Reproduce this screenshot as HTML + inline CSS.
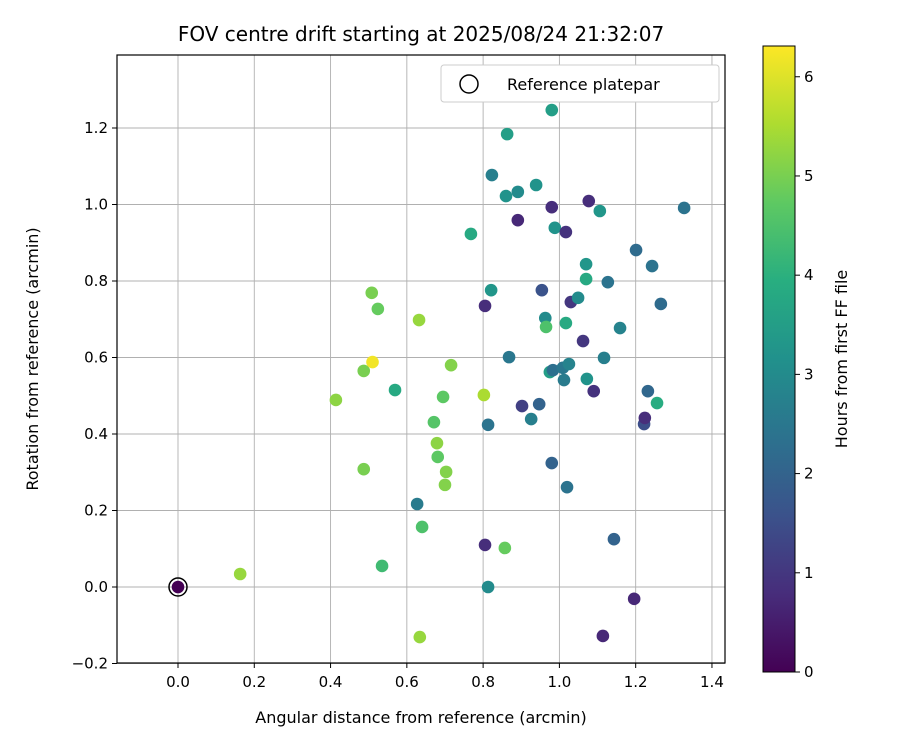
<!DOCTYPE html>
<html><head><meta charset="utf-8"><style>
body{margin:0;background:#fff;font-family:"Liberation Sans","DejaVu Sans",sans-serif}
</style></head><body>
<svg id="chart" width="900" height="750" xmlns="http://www.w3.org/2000/svg" font-family="DejaVu Sans, Liberation Sans, sans-serif">
<defs><linearGradient id="vir" x1="0" y1="1" x2="0" y2="0">
<stop offset="0" stop-color="#440154"/><stop offset="0.125" stop-color="#472d7b"/><stop offset="0.25" stop-color="#3b528b"/><stop offset="0.375" stop-color="#2c728e"/><stop offset="0.5" stop-color="#21918c"/><stop offset="0.625" stop-color="#28ae80"/><stop offset="0.75" stop-color="#5ec962"/><stop offset="0.875" stop-color="#addc30"/><stop offset="1" stop-color="#fde725"/>
</linearGradient></defs>
<text x="421" y="41" font-size="20" text-anchor="middle">FOV centre drift starting at 2025/08/24 21:32:07</text>
<g id="grid"></g>
<g id="ticks"></g>
<g id="points"></g>
<rect x="117" y="55" width="608" height="608" fill="none" stroke="#000" stroke-width="1.2"/>
<text x="421" y="723" font-size="16" text-anchor="middle">Angular distance from reference (arcmin)</text>
<text transform="translate(38,359) rotate(-90)" font-size="16" text-anchor="middle">Rotation from reference (arcmin)</text>
<g>
<rect x="441" y="65" width="278" height="37" rx="3" fill="#fff" stroke="#ccc"/>
<circle cx="469" cy="84" r="9" fill="none" stroke="#000" stroke-width="1.5"/>
<text x="507" y="90" font-size="16">Reference platepar</text>
</g>
<rect x="763" y="46" width="32" height="626" fill="url(#vir)" stroke="#000" stroke-width="1"/>
<g id="cbticks"></g>
<text transform="translate(847,359) rotate(-90)" font-size="16" text-anchor="middle">Hours from first FF file</text>
</svg>
<script>
const xs=[0,0.163,0.414,0.487,0.487,0.508,0.510,0.524,0.535,0.569,0.627,0.632,0.634,0.640,0.671,0.679,0.681,0.695,0.700,0.703,0.716,0.768,0.802,0.805,0.805,0.813,0.813,0.821,0.823,0.857,0.860,0.863,0.868,0.891,0.891,0.902,0.926,0.939,0.947,0.954,0.963,0.965,0.975,0.980,0.980,0.980,0.983,0.988,1.009,1.012,1.017,1.017,1.020,1.025,1.030,1.049,1.062,1.070,1.070,1.072,1.077,1.090,1.106,1.114,1.117,1.127,1.143,1.159,1.196,1.201,1.222,1.224,1.232,1.243,1.256,1.266,1.327];
const ys=[0,0.034,0.489,0.565,0.308,0.769,0.588,0.727,0.055,0.515,0.217,0.698,-0.131,0.157,0.431,0.376,0.340,0.497,0.267,0.301,0.580,0.923,0.502,0.735,0.110,0.424,0,0.776,1.077,0.102,1.022,1.184,0.601,0.959,1.033,0.473,0.439,1.051,0.478,0.776,0.703,0.680,0.562,1.247,0.993,0.324,0.567,0.939,0.573,0.541,0.690,0.928,0.261,0.583,0.745,0.756,0.643,0.844,0.805,0.544,1.009,0.512,0.983,-0.128,0.599,0.797,0.125,0.677,-0.031,0.881,0.426,0.442,0.512,0.839,0.481,0.740,0.991];
const hours=[0,5.3,5.2,5,5,5,6.2,4.8,4.3,3.8,2.6,5.3,5.3,4.5,4.6,5.2,4.7,4.7,5.1,5.1,5.1,3.8,5.5,0.8,0.8,2.4,3,3.3,2.7,4.8,3.2,3.5,2.5,0.7,3,1.2,2.7,3.2,2,1.6,3,4.5,3.5,3.5,0.8,2,2.3,3.2,2.5,2.6,3.8,0.9,2.4,2.8,1.0,3,1,3.3,3.8,3.2,0.8,0.9,3.3,0.7,2.7,2.4,2,2.8,0.7,2.2,1.5,0.8,2.1,2.4,3.9,2.2,2.4];
const xTicks=[0,0.2,0.4,0.6,0.8,1.0,1.2,1.4];
const yTicks=[-0.2,0,0.2,0.4,0.6,0.8,1.0,1.2];
const cTicks=[0,1,2,3,4,5,6];
const NS='http://www.w3.org/2000/svg';
const X=v=>178+(v-0)*381.4, Y=v=>587-v*382.5, C=h=>672-h*(626/6.31);
const HMAX=6.31;
const stops=[[68,1,84],[71,45,123],[59,82,139],[44,114,142],[33,145,140],[40,174,128],[94,201,98],[173,220,48],[253,231,37]];
function vir(t){t=Math.max(0,Math.min(1,t))*8;const i=Math.min(7,Math.floor(t)),f=t-i,a=stops[i],b=stops[i+1];return `rgb(${a.map((v,k)=>Math.round(v+(b[k]-v)*f)).join(',')})`;}
function mk(tag,at,parent){const e=document.createElementNS(NS,tag);for(const k in at)e.setAttribute(k,at[k]);parent.appendChild(e);return e;}
const g=document.getElementById('grid'),tk=document.getElementById('ticks'),pts=document.getElementById('points'),cb=document.getElementById('cbticks');
xTicks.forEach(v=>{const l=mk('line',{x1:X(v),x2:X(v),y1:55,y2:663,stroke:'#b0b0b0','stroke-width':0.9},g);


mk('line',{x1:X(v),x2:X(v),y1:663,y2:668,stroke:'#000'},tk);
const t=mk('text',{x:X(v),y:687,'font-size':15,'text-anchor':'middle'},tk);t.textContent=v.toFixed(1);

});
yTicks.forEach(v=>{const l=mk('line',{x1:117,x2:725,y1:Y(v),y2:Y(v),stroke:'#b0b0b0','stroke-width':0.9},g);


mk('line',{x1:112,x2:117,y1:Y(v),y2:Y(v),stroke:'#000'},tk);
const t=mk('text',{x:108,y:Y(v)+5,'font-size':15,'text-anchor':'end'},tk);t.textContent=(v<0?'\u2212':'')+Math.abs(v).toFixed(1);

});
cTicks.forEach(v=>{mk('line',{x1:795,x2:800,y1:C(v),y2:C(v),stroke:'#000'},cb);
const t=mk('text',{x:804,y:C(v)+5,'font-size':15},cb);t.textContent=v;

});
xs.forEach((x,i)=>{const c=mk('circle',{cx:X(x),cy:Y(ys[i]),r:6.3,fill:vir(hours[i]/HMAX)},pts);

});
const r=mk('circle',{cx:X(0),cy:Y(0),r:9,fill:'none',stroke:'#000','stroke-width':1.5},pts);


</script>
</body></html>
